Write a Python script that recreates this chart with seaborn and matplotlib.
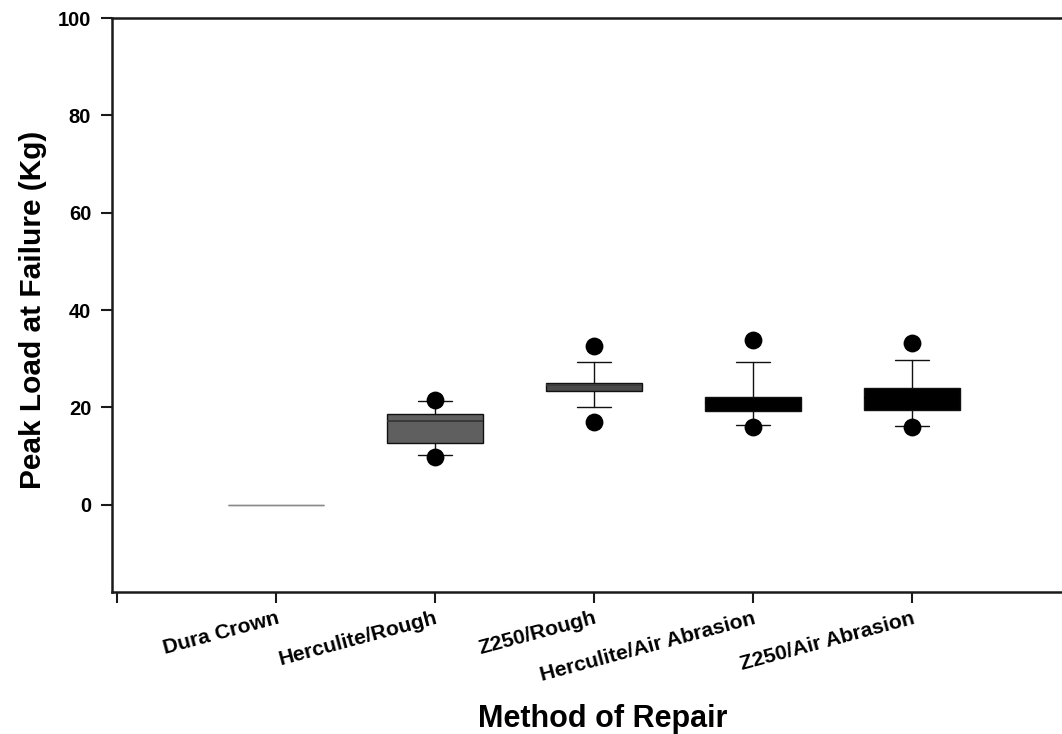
import matplotlib
matplotlib.use("Agg")
import matplotlib.pyplot as plt
import matplotlib.transforms as mtransforms
import seaborn as sns
import pandas as pd

categories = ["Dura Crown", "Herculite/Rough", "Z250/Rough",
              "Herculite/Air Abrasion", "Z250/Air Abrasion"]
q1 = [0, 12.7, 23.4, 19.3, 19.4]
median = [0, 17.2, 24.6, 21.0, 22.0]
q3 = [0, 18.6, 25.1, 22.1, 24.0]
whislo = [0, 10.3, 20.0, 16.4, 16.1]
whishi = [0, 21.4, 29.3, 29.4, 29.8]
out_low = [None, 9.8, 17.1, 16.0, 16.0]
out_high = [None, 21.6, 32.6, 33.9, 33.2]
box_colors = ["#8a8a8a", "#5f5f5f", "#4a4a4a", "#000000", "#000000"]
median_colors = ["#8a8a8a", "#333333", "#3a3a3a", "#000000", "#000000"]
yticks = [0, 20, 40, 60, 80, 100]

sns.set_style("white")
plt.rcParams["font.family"] = ["Liberation Sans", "DejaVu Sans"]
plt.rcParams["text.color"] = "black"
plt.rcParams["xtick.color"] = "black"
plt.rcParams["ytick.color"] = "black"
plt.rcParams["axes.labelcolor"] = "black"

fig = plt.figure(figsize=(10.62, 7.34), dpi=100)
ax = fig.add_axes([112 / 1062, 1 - 592 / 734, 1 - 112 / 1062, (592 - 18) / 734])

positions = list(range(1, len(categories) + 1))
for i, pos in enumerate(positions):
    stats = [dict(med=median[i], q1=q1[i], q3=q3[i], whislo=whislo[i],
                  whishi=whishi[i], fliers=[])]
    if i == 0:
        ax.bxp(stats, positions=[pos], widths=0.6, patch_artist=True,
               showcaps=False, manage_ticks=False,
               boxprops=dict(facecolor="none", edgecolor=box_colors[i], linewidth=1.0),
               medianprops=dict(color=median_colors[i], linewidth=1.0),
               whiskerprops=dict(linewidth=0), capprops=dict(linewidth=0))
    else:
        ax.bxp(stats, positions=[pos], widths=0.6, patch_artist=True,
               manage_ticks=False,
               boxprops=dict(facecolor=box_colors[i], edgecolor="#111111", linewidth=1.0),
               medianprops=dict(color=median_colors[i], linewidth=1.2),
               whiskerprops=dict(color="#111111", linewidth=1.0),
               capprops=dict(color="#111111", linewidth=1.0),
               capwidths=0.21)

rows = []
for i, pos in enumerate(positions):
    for v in (out_low[i], out_high[i]):
        if v is not None:
            rows.append({"x": pos, "y": v})
df_out = pd.DataFrame(rows)
sns.scatterplot(data=df_out, x="x", y="y", ax=ax, color="black", s=165,
                edgecolor="black", linewidth=0, zorder=5, legend=False)

ax.set_xlim(-0.031, 5.944)
ax.set_ylim(-17.9, 100)
ax.set_xticks([0] + positions)
ax.set_xticklabels([""] + categories, rotation=15, ha="right",
                   rotation_mode="anchor", fontsize=15.2, fontweight="bold")
offset = mtransforms.ScaledTranslation(-3 / 100, 0, fig.dpi_scale_trans)
for lab in ax.get_xticklabels():
    lab.set_transform(lab.get_transform() + offset)
ax.set_yticks(yticks)
ax.set_yticklabels([str(t) for t in yticks], fontsize=14.5, fontweight="bold")
ax.tick_params(axis="both", direction="out", length=8, width=1.5, color="#1a1a1a",
               bottom=True, left=True)
ax.tick_params(axis="x", pad=4)
ax.tick_params(axis="y", pad=7)

for side in ("left", "bottom", "top"):
    ax.spines[side].set_visible(True)
    ax.spines[side].set_linewidth(1.8)
    ax.spines[side].set_color("#1a1a1a")
ax.spines["right"].set_visible(False)

ax.set_xlabel("Method of Repair", fontsize=22, fontweight="bold")
ax.xaxis.set_label_coords(0.517, -0.195)
ax.set_ylabel("Peak Load at Failure (Kg)", fontsize=21.5, fontweight="bold")
ax.yaxis.set_label_coords(-0.068, 0.492)

fig.savefig("out.png", dpi=100)
